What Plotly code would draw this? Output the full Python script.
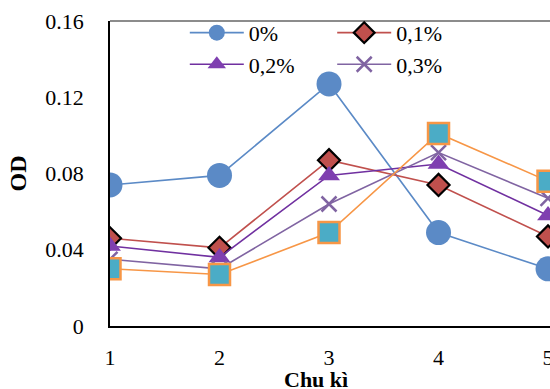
import plotly.graph_objects as go

# Cycle number on the x axis
cycles = [1, 2, 3, 4, 5]

# OD readings per concentration
od_0 = [0.074, 0.079, 0.127, 0.049, 0.030]
od_01 = [0.046, 0.041, 0.087, 0.074, 0.047]
od_02 = [0.042, 0.036, 0.079, 0.085, 0.058]
od_03 = [0.035, 0.030, 0.064, 0.091, 0.067]
od_04 = [0.030, 0.027, 0.049, 0.101, 0.076]

series_names = ["0%", "0,1%", "0,2%", "0,3%", "0,4%"]

y_ticks = [0, 0.04, 0.08, 0.12, 0.16]
y_tick_text = ["0", "0.04", "0.08", "0.12", "0.16"]

FONT = "Liberation Serif"

fig = go.Figure()

fig.add_trace(go.Scatter(
    x=cycles, y=od_0, name=series_names[0], mode="lines+markers",
    line=dict(color="#5B8AC6", width=1.6),
    marker=dict(symbol="circle", size=25, color="#5B8AC6"),
    legend="legend",
))
fig.add_trace(go.Scatter(
    x=cycles, y=od_01, name=series_names[1], mode="lines+markers",
    line=dict(color="#C0504D", width=1.6),
    marker=dict(symbol="diamond", size=17, color="#C0504D",
                line=dict(color="#000000", width=2.2)),
    legend="legend2",
))
fig.add_trace(go.Scatter(
    x=cycles, y=od_02, name=series_names[2], mode="lines+markers",
    line=dict(color="#7030A0", width=1.6),
    marker=dict(symbol="triangle-up", size=19, color="#7F3FB0"),
    legend="legend",
))
fig.add_trace(go.Scatter(
    x=cycles, y=od_03, name=series_names[3], mode="lines+markers",
    line=dict(color="#8064A2", width=1.6),
    marker=dict(symbol="x-thin", size=15, color="#8064A2",
                line=dict(color="#8064A2", width=2.5)),
    legend="legend2",
))
fig.add_trace(go.Scatter(
    x=cycles, y=od_04, name=series_names[4], mode="lines+markers",
    line=dict(color="#F79646", width=1.6),
    marker=dict(symbol="square", size=21, color="#4BACC6",
                line=dict(color="#F79646", width=2.5)),
    showlegend=False,
))

legend_common = dict(
    font=dict(family=FONT, size=22, color="#000000"),
    bgcolor="rgba(0,0,0,0)",
    itemwidth=54,
    tracegroupgap=0,
    yanchor="top",
    xanchor="left",
)

fig.update_layout(
    width=550, height=389,
    margin=dict(l=110, r=0, t=21, b=63, autoexpand=False),
    paper_bgcolor="white",
    plot_bgcolor="white",
    font=dict(family=FONT, size=22, color="#000000"),
    legend=dict(x=0.17, y=1.03, **legend_common),
    legend2=dict(x=0.505, y=1.03, **legend_common),
    xaxis=dict(
        range=[1, 5.018], automargin=False,
        tickmode="array", tickvals=cycles, ticktext=[str(c) for c in cycles],
        showgrid=False, zeroline=False,
        showline=True, linecolor="#000000", linewidth=2,
        ticks="", ticklabelstandoff=11, ticklabeloverflow="allow",
        tickfont=dict(family=FONT, size=22),
    ),
    yaxis=dict(
        range=[0, 0.16], automargin=False,
        tickmode="array", tickvals=y_ticks, ticktext=y_tick_text,
        showgrid=False, zeroline=False,
        showline=True, linecolor="#000000", linewidth=1.5,
        ticks="", ticklabelstandoff=20,
        tickfont=dict(family=FONT, size=22),
        title=dict(text="<b>OD</b>", font=dict(family=FONT, size=24), standoff=12),
    ),
    shapes=[dict(type="line", xref="paper", yref="paper", x0=0, x1=1, y0=1, y1=1,
                 line=dict(color="#666666", width=1.5))],
    annotations=[dict(text="<b>Chu kì</b>", xref="paper", yref="paper",
                      x=0.468, y=-0.177, xanchor="center", yanchor="middle",
                      showarrow=False, font=dict(family=FONT, size=22))],
)

fig.write_html("out.html")
